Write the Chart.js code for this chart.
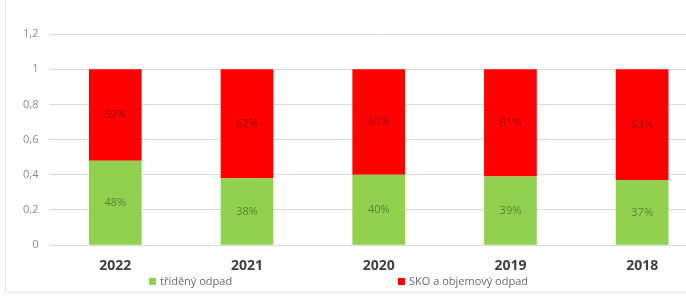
<!DOCTYPE html>
<html>
<head>
<meta charset="utf-8">
<script src="https://cdn.jsdelivr.net/npm/chart.js@4"></script>
<style>
  html, body { margin: 0; padding: 0; background: #fff; overflow: hidden; }
  #frame { position: absolute; left: 5px; top: 0; width: 700px; height: 292px;
    border-left: 1px solid #e6e6e6; border-bottom: 1px solid #e6e6e6; }
  #wrap { position: absolute; left: 0; top: 0; width: 708px; height: 300px; }
  #legend { position: absolute; top: 273px; left: 0; width: 686px; height: 16px;
    font-family: "Open Sans", sans-serif; font-size: 11px; color: #6b6b6b; }
  #legend span { position: absolute; top: 0; white-space: nowrap; }
  #legend i { display: inline-block; width: 7px; height: 7px; margin-right: 4px; vertical-align: 0px; }
</style>
</head>
<body>
<div id="frame"></div>
<div id="wrap"><canvas id="ov"></canvas></div>
<div id="legend">
  <span style="left:149px"><i style="background:#92d050"></i>tříděný odpad</span>
  <span style="left:398px"><i style="background:#ff0000"></i>SKO a objemový odpad</span>
</div>
<script>
const years = ["2022", "2021", "2020", "2019", "2018"];
const sortedArr = [0.48, 0.38, 0.40, 0.39, 0.37];
const mixedArr = [0.52, 0.62, 0.60, 0.61, 0.63];
const yTicks = [0, 0.2, 0.4, 0.6, 0.8, 1, 1.2];

// percent labels inside each segment
const segLabels = {
  id: "segLabels",
  afterDatasetsDraw(chart) {
    const c = chart.ctx;
    c.save();
    c.font = "11px 'Open Sans', sans-serif";
    c.textAlign = "center";
    c.textBaseline = "middle";
    c.fillStyle = "rgba(0,0,0,0.38)";
    chart.data.datasets.forEach((ds, i) => {
      chart.getDatasetMeta(i).data.forEach((bar, j) => {
        const mid = (bar.y + bar.base) / 2;
        c.fillText(Math.round(ds.data[j] * 100) + "%", bar.x, mid);
      });
    });
    c.restore();
  },
};

const ctx = document.getElementById("ov").getContext("2d");
const myChart = new Chart(ctx, {
  type: "bar",
  data: {
    labels: years,
    datasets: [
      {
        label: "tříděný odpad",
        data: sortedArr,
        backgroundColor: "#92d050",
        barPercentage: 0.5,
        categoryPercentage: 0.8,
      },
      {
        label: "SKO a objemový odpad",
        data: mixedArr,
        backgroundColor: "#ff0000",
        barPercentage: 0.5,
        categoryPercentage: 0.8,
      },
    ],
  },
  plugins: [segLabels],
  options: {
    responsive: true,
    maintainAspectRatio: false,
    animation: false,
    layout: { padding: { top: 34, left: 12, right: 0, bottom: 14 } },
    plugins: {
      legend: { display: false },
      tooltip: { enabled: false },
    },
    scales: {
      x: {
        stacked: true,
        grid: { display: false, drawTicks: false },
        border: { display: false },
        ticks: {
          padding: 12,
          color: "#404040",
          font: { family: "'Open Sans', sans-serif", size: 14, weight: "bold" },
        },
      },
      y: {
        stacked: true,
        min: 0,
        max: 1.2,
        afterBuildTicks: (axis) => { axis.ticks = yTicks.map((v) => ({ value: v })); },
        grid: { color: "#d9d9d9", drawTicks: false },
        border: { display: false },
        ticks: {
          padding: 11,
          color: "#8a8a8a",
          font: { family: "'Open Sans', sans-serif", size: 11 },
          callback: (v) => String(Math.round(v * 10) / 10).replace(".", ","),
        },
      },
    },
  },
});
</script>
</body>
</html>
